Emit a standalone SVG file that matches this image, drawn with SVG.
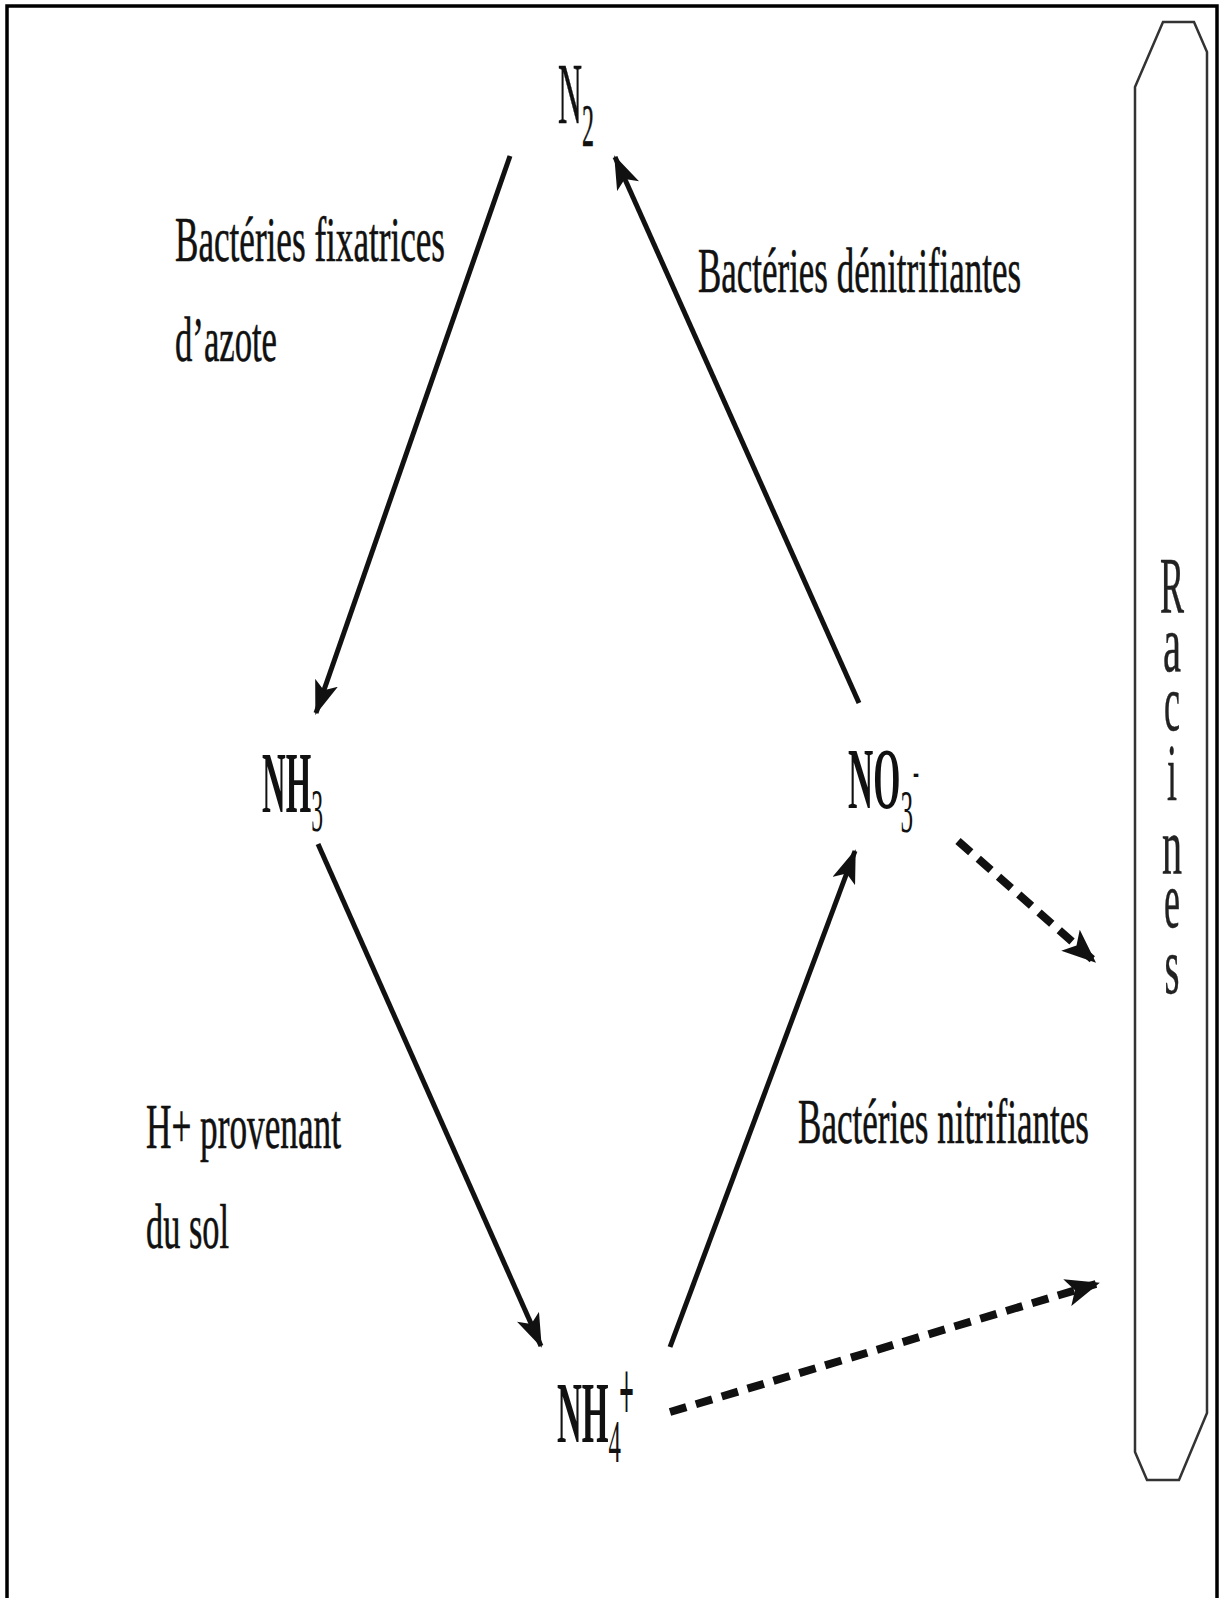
<svg xmlns="http://www.w3.org/2000/svg" width="1221" height="1598" viewBox="0 0 1221 1598">
<style>
.lbl{font-family:"Liberation Serif","Times New Roman",serif;font-size:64px;fill:#111;stroke:#111;stroke-width:0.6}
.f{font-family:"Liberation Serif","Times New Roman",serif;font-size:86px;fill:#111;stroke:#111;stroke-width:0.6}
.fb{font-family:"Liberation Serif","Times New Roman",serif;font-size:86px;font-weight:bold;fill:#111}
.rl{font-family:"Liberation Serif","Times New Roman",serif;font-size:80px;fill:#222;stroke:#222;stroke-width:0.5;text-anchor:middle}
.solid{stroke:#111;stroke-width:5;fill:none;marker-end:url(#ah)}
.dash{stroke:#111;stroke-width:8;fill:none;stroke-dasharray:17 10;marker-end:url(#ah2)}
</style>
<defs>
<marker id="ah" markerWidth="34" markerHeight="24" refX="32" refY="12" orient="auto" markerUnits="userSpaceOnUse">
<path d="M0,0 L34,12 L0,24 L8,12 z" fill="#111"/>
</marker>
<marker id="ah2" markerWidth="34" markerHeight="28" refX="30" refY="14" orient="auto" markerUnits="userSpaceOnUse">
<path d="M0,0 L34,14 L0,28 L8,14 z" fill="#111"/>
</marker>
</defs>
<rect width="1221" height="1598" fill="#fff"/>
<path d="M7,1598 L7,6 L1217,6 L1217,1598" fill="none" stroke="#000" stroke-width="3.5"/>

<g id="racines">
<polygon points="1163,22 1194,22 1207,52 1207,1413 1179,1480 1147,1480 1135,1452 1135,87" fill="none" stroke="#333" stroke-width="2.5"/>
<text class="rl" x="1172" y="613" textLength="24" lengthAdjust="spacingAndGlyphs">R</text>
<text class="rl" x="1172" y="671" textLength="18" lengthAdjust="spacingAndGlyphs">a</text>
<text class="rl" x="1172" y="730" textLength="16" lengthAdjust="spacingAndGlyphs">c</text>
<text class="rl" x="1172" y="800" textLength="10" lengthAdjust="spacingAndGlyphs">i</text>
<text class="rl" x="1172" y="873" textLength="20" lengthAdjust="spacingAndGlyphs">n</text>
<text class="rl" x="1172" y="927" textLength="16" lengthAdjust="spacingAndGlyphs">e</text>
<text class="rl" x="1172" y="993" textLength="15" lengthAdjust="spacingAndGlyphs">s</text>
</g>

<g id="connectors">
<line class="solid" x1="510" y1="156" x2="316" y2="713"/>
<line class="solid" x1="859" y1="703" x2="615" y2="157"/>
<line class="solid" x1="318" y1="844" x2="541" y2="1346"/>
<line class="solid" x1="670" y1="1347" x2="855" y2="851"/>
<line class="dash" x1="958" y1="841" x2="1093" y2="960"/>
<line class="dash" x1="670" y1="1412" x2="1096" y2="1284"/>
</g>

<g id="n2">
<text class="f" x="558" y="123" textLength="36" lengthAdjust="spacingAndGlyphs">N<tspan dy="23" font-size="62">2</tspan></text>
</g>
<g id="nh3">
<text class="fb" x="262" y="812" textLength="61" lengthAdjust="spacingAndGlyphs">NH<tspan dy="19" font-size="62" font-weight="normal">3</tspan></text>
</g>
<g id="no3">
<text class="fb" x="848" y="808" textLength="71" lengthAdjust="spacingAndGlyphs">NO<tspan dy="24" font-size="62" font-weight="normal">3</tspan><tspan dy="-46" font-size="44" font-weight="normal">-</tspan></text>
</g>
<g id="nh4">
<text class="fb" x="557" y="1442" textLength="64" lengthAdjust="spacingAndGlyphs">NH<tspan dy="20" font-size="62" font-weight="normal">4</tspan></text>
<text class="fb" x="619" y="1421" font-size="58" textLength="15" lengthAdjust="spacingAndGlyphs">+</text>
</g>

<g id="label-fixatrices">
<text class="lbl" x="175" y="261" textLength="270" lengthAdjust="spacingAndGlyphs">Bactéries fixatrices</text>
<text class="lbl" x="175" y="361" textLength="102" lengthAdjust="spacingAndGlyphs">d’azote</text>
</g>
<g id="label-denitrifiantes">
<text class="lbl" x="698" y="292" textLength="323" lengthAdjust="spacingAndGlyphs">Bactéries dénitrifiantes</text>
</g>
<g id="label-h">
<text class="lbl" x="146" y="1148" textLength="195" lengthAdjust="spacingAndGlyphs">H+ provenant</text>
<text class="lbl" x="146" y="1248" textLength="83" lengthAdjust="spacingAndGlyphs">du sol</text>
</g>
<g id="label-nitrifiantes">
<text class="lbl" x="798" y="1143" textLength="291" lengthAdjust="spacingAndGlyphs">Bactéries nitrifiantes</text>
</g>
</svg>
